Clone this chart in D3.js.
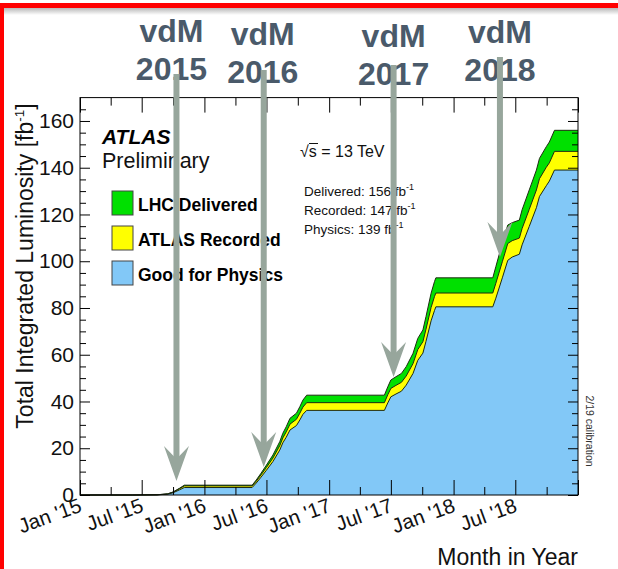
<!DOCTYPE html>
<html>
<head>
<meta charset="utf-8">
<script src="https://cdn.jsdelivr.net/npm/d3@7"></script>
<style>
  html, body { margin: 0; padding: 0; background: #fff; }
  svg { display: block; font-family: "Liberation Sans", Arial, Helvetica, sans-serif; }
</style>
</head>
<body>
<svg id="chart" width="618" height="569"></svg>
<script>
// Cumulative integrated luminosity, ATLAS Run 2 pp at 13 TeV (fb^-1)
const dates = [
  "2015-01-01", "2015-06-03", "2015-08-15", "2015-09-15", "2015-10-01", "2015-10-20", "2015-11-03",
  "2016-05-20", "2016-06-01", "2016-06-15", "2016-07-01", "2016-07-20", "2016-08-09", "2016-08-18",
  "2016-08-28", "2016-09-08", "2016-09-27", "2016-10-07", "2016-10-16", "2016-10-27",
  "2017-06-12", "2017-06-22", "2017-07-01", "2017-07-16", "2017-08-01", "2017-08-15", "2017-09-04",
  "2017-09-18", "2017-10-03", "2017-10-12", "2017-10-27", "2017-11-06", "2017-11-10",
  "2018-04-26", "2018-05-05", "2018-05-24", "2018-06-09", "2018-06-22", "2018-07-13", "2018-07-21",
  "2018-08-11", "2018-09-01", "2018-09-10", "2018-09-30", "2018-10-09", "2018-10-24", "2019-01-01"
];
const delivered = [
  0, 0, 0.1, 0.5, 1.3, 2.9, 4.2,
  4.2, 6.4, 9.3, 12.8, 17.1, 22.8, 26.4,
  29.2, 32.8, 35.0, 37.8, 40.6, 42.7,
  42.7, 46.3, 49.2, 50.6, 52.0, 54.9, 60.6,
  67.0, 70.6, 76.3, 86.3, 91.3, 92.9,
  92.9, 97.7, 107.7, 115.5, 116.5, 117.6, 122.0,
  130.5, 139.0, 144.0, 149.0, 151.0, 156.0, 156.0
];
const recorded = [
  0, 0, 0.1, 0.45, 1.2, 2.7, 3.9,
  3.9, 5.9, 8.6, 11.8, 15.8, 21.1, 24.4,
  27.0, 30.3, 32.4, 35.0, 37.6, 39.5,
  39.5, 42.9, 45.6, 46.9, 48.2, 50.9, 56.2,
  62.2, 65.6, 70.9, 80.2, 84.9, 86.4,
  86.4, 90.6, 99.8, 107.6, 108.8, 109.9, 114.0,
  122.2, 130.5, 135.3, 140.2, 142.1, 147.0, 147.0
];
const goodPhysics = [
  0, 0, 0.05, 0.35, 0.95, 2.2, 3.2,
  3.2, 5.1, 7.6, 10.6, 14.3, 19.2, 22.3,
  24.7, 27.8, 29.7, 32.1, 34.5, 36.2,
  36.2, 39.4, 42.0, 43.2, 44.4, 47.0, 52.0,
  57.6, 60.7, 65.7, 74.5, 78.9, 80.5,
  80.5, 84.2, 92.9, 100.4, 101.8, 103.0, 107.0,
  114.9, 122.9, 127.7, 132.3, 134.3, 139.0, 139.0
];

const yTicks = [0, 20, 40, 60, 80, 100, 120, 140, 160];
const xTickLabels = ["Jan '15", "Jul '15", "Jan '16", "Jul '16", "Jan '17", "Jul '17", "Jan '18", "Jul '18"];
const seriesNames = ["LHC Delivered", "ATLAS Recorded", "Good for Physics"];
const seriesColors = ["#00e000", "#ffff00", "#82c8f7"];

// van der Meer scan annotations: label, date pointed at, luminosity at arrow tip
const vdmYears = ["2015", "2016", "2017", "2018"];
const vdmDates = ["2015-10-11", "2016-06-23", "2017-07-09", "2018-05-17"];
const vdmTipValues = [6.0, 12.0, 50.5, 101.8];

const parse = d3.utcParse("%Y-%m-%d");
const svg = d3.select("#chart");

// Plot frame
const frame = { left: 80, right: 578, top: 97.6, bottom: 495 };
const x = d3.scaleUtc()
  .domain([parse("2015-01-01"), parse("2019-01-01")])
  .range([frame.left, frame.right]);
const y = d3.scaleLinear().domain([0, 170]).range([frame.bottom, frame.top]);

const font = '"Liberation Sans", Arial, Helvetica, sans-serif';

// Slide border: red rule on top with soft shadow, red rule on the left
const defs = svg.append("defs");
const sh = defs.append("linearGradient").attr("id", "shadow").attr("x1", 0).attr("x2", 0).attr("y1", 0).attr("y2", 1);
sh.append("stop").attr("offset", "0%").attr("stop-color", "#b8b8b8");
sh.append("stop").attr("offset", "100%").attr("stop-color", "#ffffff");
svg.append("rect").attr("x", 0).attr("y", 8).attr("width", 618).attr("height", 7).attr("fill", "url(#shadow)");
svg.append("rect").attr("x", 0).attr("y", 3).attr("width", 618).attr("height", 5).attr("fill", "#ff0000");
svg.append("rect").attr("x", 0).attr("y", 3).attr("width", 4).attr("height", 566).attr("fill", "#ff0000");

// Stacked cumulative areas
const series = [delivered, recorded, goodPhysics].map(vals =>
  dates.map((d, i) => ({ date: parse(d), v: vals[i] })));

const area = d3.area().x(d => x(d.date)).y0(y(0)).y1(d => y(d.v));
const line = d3.line().x(d => x(d.date)).y(d => y(d.v));

const plot = svg.append("g");
series.forEach((s, i) => {
  plot.append("path").datum(s).attr("d", area).attr("fill", seriesColors[i]);
});
series.forEach((s, i) => {
  plot.append("path").datum(s).attr("d", line)
    .attr("fill", "none").attr("stroke", "#1e2a12").attr("stroke-width", 1);
});

// Axes with inward ticks on all four sides
const quarterTicks = d3.utcMonth.every(3).range(parse("2015-01-01"), parse("2019-01-02"));
const halfYearTicks = quarterTicks.filter(d => d.getUTCMonth() % 6 === 0);
const otherQuarters = quarterTicks.filter(d => d.getUTCMonth() % 6 !== 0);
const minorY = d3.range(5, 170, 5).filter(v => v % 20 !== 0);

function styleAxis(g) {
  g.select(".domain").remove();
  g.selectAll(".tick line").attr("stroke", "#000").attr("stroke-width", 1);
}

svg.append("g").attr("transform", `translate(0,${frame.bottom})`)
  .call(d3.axisBottom(x).tickValues(halfYearTicks).tickSizeInner(-15).tickSizeOuter(0).tickFormat(""))
  .call(styleAxis);
svg.append("g").attr("transform", `translate(0,${frame.bottom})`)
  .call(d3.axisBottom(x).tickValues(otherQuarters).tickSizeInner(-8).tickSizeOuter(0).tickFormat(""))
  .call(styleAxis);
svg.append("g").attr("transform", `translate(0,${frame.top})`)
  .call(d3.axisTop(x).tickValues(halfYearTicks).tickSizeInner(-15).tickSizeOuter(0).tickFormat(""))
  .call(styleAxis);
svg.append("g").attr("transform", `translate(0,${frame.top})`)
  .call(d3.axisTop(x).tickValues(otherQuarters).tickSizeInner(-8).tickSizeOuter(0).tickFormat(""))
  .call(styleAxis);

const yAxis = svg.append("g").attr("transform", `translate(${frame.left},0)`)
  .call(d3.axisLeft(y).tickValues(yTicks).tickSizeInner(-10).tickSizeOuter(0).tickPadding(6).tickFormat(d3.format("d")));
yAxis.call(styleAxis);
yAxis.selectAll("text").attr("font-family", font).attr("font-size", 21).attr("fill", "#111");
svg.append("g").attr("transform", `translate(${frame.left},0)`)
  .call(d3.axisLeft(y).tickValues(minorY).tickSizeInner(-6).tickSizeOuter(0).tickFormat(""))
  .call(styleAxis);
svg.append("g").attr("transform", `translate(${frame.right},0)`)
  .call(d3.axisRight(y).tickValues(yTicks).tickSizeInner(-10).tickSizeOuter(0).tickFormat(""))
  .call(styleAxis);
svg.append("g").attr("transform", `translate(${frame.right},0)`)
  .call(d3.axisRight(y).tickValues(minorY).tickSizeInner(-6).tickSizeOuter(0).tickFormat(""))
  .call(styleAxis);

svg.append("rect")
  .attr("x", frame.left).attr("y", frame.top)
  .attr("width", frame.right - frame.left).attr("height", frame.bottom - frame.top)
  .attr("fill", "none").attr("stroke", "#000").attr("stroke-width", 1);

// Rotated month labels
svg.append("g").selectAll("text")
  .data(halfYearTicks.slice(0, xTickLabels.length))
  .join("text")
  .attr("transform", d => `translate(${x(d) + 3},511) rotate(-20)`)
  .attr("text-anchor", "end")
  .attr("font-size", 20.5).attr("fill", "#111")
  .text((d, i) => xTickLabels[i]);

// Axis titles
svg.append("text")
  .attr("x", frame.right).attr("y", 565)
  .attr("text-anchor", "end").attr("font-size", 23).attr("fill", "#111")
  .text("Month in Year");

const yTitle = svg.append("text")
  .attr("transform", "translate(33,266) rotate(-90)")
  .attr("text-anchor", "middle").attr("font-size", 23).attr("fill", "#111");
yTitle.append("tspan").text("Total Integrated Luminosity [fb");
yTitle.append("tspan").attr("font-size", 13.5).attr("dy", -9).text("-1");
yTitle.append("tspan").attr("dy", 9).text("]");

// Experiment label and legend
svg.append("text").attr("x", 102).attr("y", 144)
  .attr("font-size", 21).attr("font-weight", "bold").attr("font-style", "italic").attr("fill", "#000")
  .text("ATLAS");
svg.append("text").attr("x", 102).attr("y", 168)
  .attr("font-size", 21.5).attr("fill", "#111")
  .text("Preliminary");

const legend = svg.append("g");
seriesNames.forEach((name, i) => {
  const yy = 191 + i * 35;
  legend.append("rect").attr("x", 112).attr("y", yy).attr("width", 21).attr("height", 24)
    .attr("fill", seriesColors[i]).attr("stroke", "#444").attr("stroke-width", 1);
  legend.append("text").attr("x", 138).attr("y", yy + 19.5)
    .attr("font-size", 17.5).attr("font-weight", "bold").attr("fill", "#000")
    .text(name);
});

// Centre-of-mass energy and totals
const sq = svg.append("text").attr("x", 300).attr("y", 157).attr("font-size", 16).attr("fill", "#111");
sq.append("tspan").text("√");
sq.append("tspan").text("s = 13 TeV");
svg.append("line").attr("x1", 309).attr("x2", 318).attr("y1", 143.5).attr("y2", 143.5)
  .attr("stroke", "#111").attr("stroke-width", 1);

const totals = [
  ["Delivered: ", delivered[delivered.length - 1]],
  ["Recorded: ", recorded[recorded.length - 1]],
  ["Physics: ", goodPhysics[goodPhysics.length - 1]]
];
totals.forEach(([lab, v], i) => {
  const t = svg.append("text").attr("x", 304).attr("y", 196 + i * 19.2)
    .attr("font-size", 13.5).attr("fill", "#111");
  t.append("tspan").text(`${lab}${d3.format("d")(v)} fb`);
  t.append("tspan").attr("font-size", 9).attr("dy", -6).text("-1");
});

svg.append("text")
  .attr("transform", "translate(586,431) rotate(90)")
  .attr("text-anchor", "middle").attr("font-size", 10.5).attr("fill", "#333")
  .text("2/19 calibration");

// vdM labels and arrows
const vdmColor = "#4a5a6a";
const arrowColor = "#97a69c";
const labelTopBaselines = [42, 45, 47, 43];
const shaftTops = [74, 70, 65, 57];
const labelShift = [-5, -1, 0, 0];

vdmYears.forEach((yr, i) => {
  const ax = x(parse(vdmDates[i]));
  const g = svg.append("g");
  g.append("text").attr("x", ax + labelShift[i]).attr("y", labelTopBaselines[i])
    .attr("text-anchor", "middle").attr("font-size", 32).attr("font-weight", "bold").attr("fill", vdmColor)
    .text("vdM");
  g.append("text").attr("x", ax + labelShift[i]).attr("y", labelTopBaselines[i] + 38)
    .attr("text-anchor", "middle").attr("font-size", 32).attr("font-weight", "bold").attr("fill", vdmColor)
    .text(yr);
});

const blur = defs.append("filter").attr("id", "soft").attr("x", "-50%").attr("y", "-10%").attr("width", "200%").attr("height", "120%");
blur.append("feGaussianBlur").attr("stdDeviation", 0.7);

vdmYears.forEach((yr, i) => {
  const ax = x(parse(vdmDates[i]));
  const tip = y(vdmTipValues[i]);
  const g = svg.append("g").attr("filter", "url(#soft)");
  g.append("line").attr("x1", ax).attr("x2", ax).attr("y1", shaftTops[i]).attr("y2", tip - 20)
    .attr("stroke", arrowColor).attr("stroke-width", 6);
  g.append("path")
    .attr("d", `M${ax - 12.5},${tip - 35} L${ax},${tip} L${ax + 12.5},${tip - 35} L${ax},${tip - 22} Z`)
    .attr("fill", arrowColor);
});
</script>
</body>
</html>
